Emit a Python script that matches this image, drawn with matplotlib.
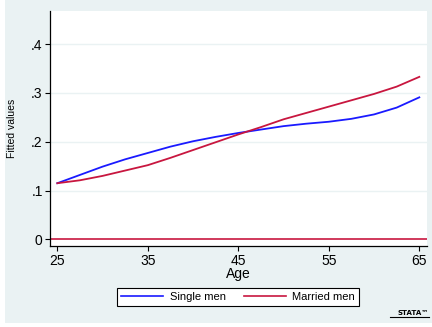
import numpy as np
import matplotlib.pyplot as plt
from matplotlib.patches import Rectangle
from matplotlib.lines import Line2D

plt.rcParams['font.family'] = ['Liberation Sans', 'DejaVu Sans']

# fitted values by age
ages = [25, 27.5, 30, 32.5, 35, 37.5, 40, 42.5, 45, 47.5, 50, 52.5, 55, 57.5, 60, 62.5, 65]
single_men = [0.115, 0.132, 0.149, 0.164, 0.177, 0.190, 0.201, 0.210, 0.218, 0.225,
              0.232, 0.237, 0.241, 0.247, 0.256, 0.270, 0.291]
married_men = [0.115, 0.121, 0.130, 0.141, 0.152, 0.167, 0.183, 0.199, 0.215, 0.230,
               0.246, 0.259, 0.272, 0.285, 0.298, 0.313, 0.333]
xticks = [25, 35, 45, 55, 65]
yticks = [0, 0.1, 0.2, 0.3, 0.4]
ytick_labels = ['0', '.1', '.2', '.3', '.4']

bg = '#eaf2f3'
blue = '#1a1aff'
red = '#c8163f'

fig = plt.figure(figsize=(4.32, 3.27), dpi=100, facecolor='white')
# graph region
fig.patches.append(Rectangle((5 / 432, 4 / 327), 1 - 5 / 432, 1 - 4 / 327,
                             transform=fig.transFigure, facecolor=bg,
                             edgecolor='none', zorder=-10))

ax = fig.add_axes([50 / 432, 1 - 246 / 327, 377 / 432, 235 / 327])
ax.set_facecolor('white')

for y in yticks[1:]:
    ax.axhline(y, color=bg, lw=1.0, zorder=1)
ax.axhline(0, color=red, lw=1.2, zorder=2)

ax.plot(ages, single_men, color=blue, lw=1.3, zorder=3)
ax.plot(ages, married_men, color=red, lw=1.3, zorder=3)

ax.set_xlim(24.19, 65.85)
ax.set_ylim(-0.0137, 0.468)

ax.spines['top'].set_visible(False)
ax.spines['right'].set_visible(False)
ax.spines['left'].set_linewidth(0.9)
ax.spines['bottom'].set_linewidth(0.9)

ax.set_xticks(xticks)
ax.set_xticklabels([str(t) for t in xticks], fontsize=10)
ax.set_yticks(yticks)
ax.set_yticklabels(ytick_labels, fontsize=10)
ax.tick_params(axis='y', length=3.8, width=0.8, pad=1.5)
ax.tick_params(axis='x', length=3.4, width=0.8, pad=2.5)

ax.set_xlabel('Age', fontsize=10, labelpad=-1)
ax.set_ylabel('Fitted values', fontsize=7.5)
ax.yaxis.set_label_coords(-0.087, 0.5)

handles = [Line2D([], [], color=blue, lw=1.2), Line2D([], [], color=red, lw=1.2)]
leg = fig.legend(handles, ['Single men', 'Married men'], loc='center',
                 bbox_to_anchor=(238 / 432, 1 - 297 / 327), ncol=2, fontsize=8,
                 frameon=True, fancybox=False, framealpha=1, edgecolor='black',
                 handlelength=3.8, handletextpad=0.6, columnspacing=1.6,
                 borderpad=0.35, borderaxespad=0)
leg.get_frame().set_linewidth(0.8)

# little logo in the corner
fig.text(429 / 432, 1 - 313 / 327, 'STATA\u2122', fontsize=5, fontweight='bold',
         ha='right', va='center', family='DejaVu Sans')
fig.add_artist(Line2D([390 / 432, 429 / 432], [1 - 317 / 327, 1 - 317 / 327],
                      transform=fig.transFigure, color='black', lw=0.8))

fig.savefig('out.png', dpi=100, facecolor=fig.get_facecolor())
